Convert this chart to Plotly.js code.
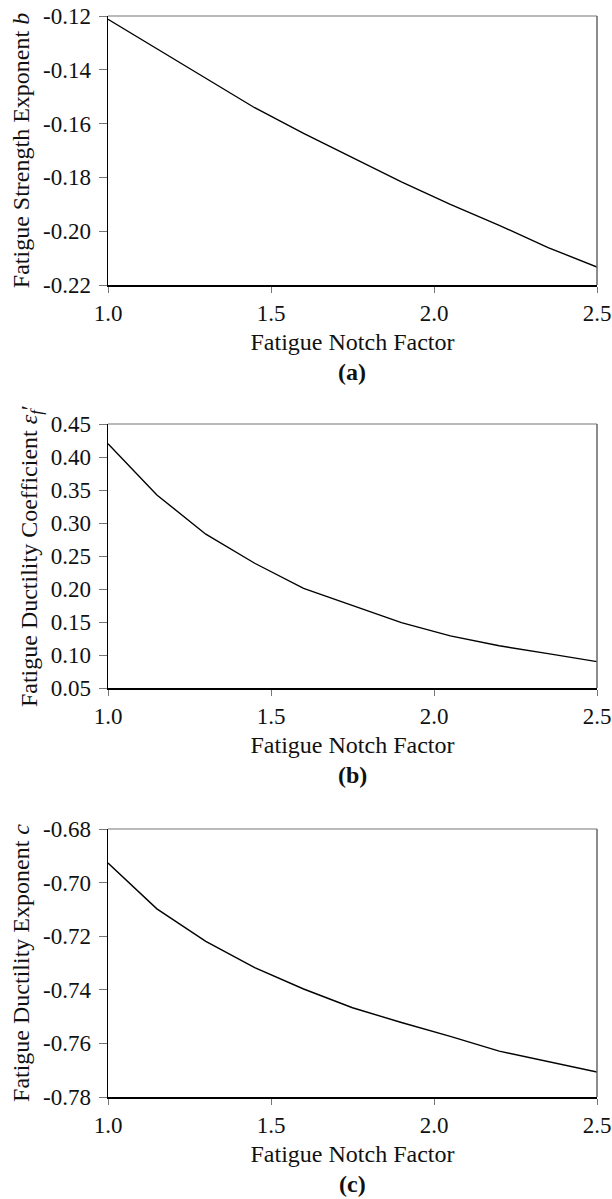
<!DOCTYPE html>
<html>
<head>
<meta charset="utf-8">
<script src="https://cdn.plot.ly/plotly-3.0.1.min.js"></script>
<style>
  html, body { margin: 0; padding: 0; background: #fff; }
  #chart { width: 612px; height: 1199px; }
</style>
</head>
<body>
<div id="chart"></div>
<script>
// ---- data ----
const notchFactor = [1.0, 1.15, 1.3, 1.45, 1.6, 1.75, 1.9, 2.05, 2.2, 2.35, 2.5];
const strengthExponentB = [-0.1212, -0.1322, -0.1433, -0.1541, -0.1636, -0.1728, -0.1817, -0.1900, -0.1978, -0.2061, -0.2133];
const ductilityCoefficientEf = [0.420, 0.3425, 0.283, 0.239, 0.201, 0.175, 0.149, 0.129, 0.114, 0.102, 0.090];
const ductilityExponentC = [-0.6927, -0.7098, -0.7219, -0.7317, -0.7397, -0.7467, -0.7522, -0.7574, -0.7629, -0.7668, -0.7707];

const xTickVals = [1.0, 1.5, 2.0, 2.5];
const xTickText = ['1.0', '1.5', '2.0', '2.5'];
const bTickVals = [-0.22, -0.20, -0.18, -0.16, -0.14, -0.12];
const bTickText = ['-0.22', '-0.20', '-0.18', '-0.16', '-0.14', '-0.12'];
const efTickVals = [0.05, 0.10, 0.15, 0.20, 0.25, 0.30, 0.35, 0.40, 0.45];
const efTickText = ['0.05', '0.10', '0.15', '0.20', '0.25', '0.30', '0.35', '0.40', '0.45'];
const cTickVals = [-0.78, -0.76, -0.74, -0.72, -0.70, -0.68];
const cTickText = ['-0.78', '-0.76', '-0.74', '-0.72', '-0.70', '-0.68'];

const xTitle = 'Fatigue Notch Factor';
const yTitles = ['Fatigue Strength Exponent <i>b</i>',
                 'Fatigue Ductility Coefficient <i>ε<sub>f</sub></i>′',
                 'Fatigue Ductility Exponent <i>c</i>'];
const panelLabels = ['(a)', '(b)', '(c)'];

// ---- layout ----
const W = 612, H = 1199;
const FONT = 'Liberation Serif';
const xDom = [108 / W, 597 / W];
const panels = [
  {top: 16, bottom: 285},
  {top: 424, bottom: 688},
  {top: 829, bottom: 1097}
];
const yDom = panels.map(p => [1 - p.bottom / H, 1 - p.top / H]);

const series = [strengthExponentB, ductilityCoefficientEf, ductilityExponentC];
const yRanges = [[-0.22, -0.12], [0.05, 0.45], [-0.78, -0.68]];
const yTicks = [[bTickVals, bTickText], [efTickVals, efTickText], [cTickVals, cTickText]];

const traces = series.map((ys, i) => ({
  type: 'scatter', mode: 'lines',
  x: notchFactor, y: ys,
  xaxis: i === 0 ? 'x' : 'x' + (i + 1),
  yaxis: i === 0 ? 'y' : 'y' + (i + 1),
  line: {color: '#000', width: 1.4},
  hoverinfo: 'skip', showlegend: false
}));

const layout = {
  width: W, height: H,
  margin: {l: 0, r: 0, t: 0, b: 0},
  paper_bgcolor: '#fff', plot_bgcolor: '#fff',
  font: {family: FONT, size: 23, color: '#111'},
  showlegend: false,
  shapes: [], annotations: []
};

for (let i = 0; i < 3; i++) {
  const xk = i === 0 ? 'xaxis' : 'xaxis' + (i + 1);
  const yk = i === 0 ? 'yaxis' : 'yaxis' + (i + 1);
  const xs = i === 0 ? 'x' : 'x' + (i + 1);
  const ysid = i === 0 ? 'y' : 'y' + (i + 1);
  layout[xk] = {
    domain: xDom, anchor: ysid, range: [1.0, 2.5],
    tickvals: xTickVals, ticktext: xTickText,
    ticks: 'outside', ticklen: 6, tickwidth: 1, tickcolor: '#777',
    showline: true, linecolor: '#000', linewidth: 2,
    showgrid: false, zeroline: false, automargin: false,
    tickfont: {family: FONT, size: 23, color: '#111'},
    title: {text: xTitle, font: {family: FONT, size: 24, color: '#111'}, standoff: 9}
  };
  layout[yk] = {
    domain: yDom[i], anchor: xs, range: yRanges[i],
    tickvals: yTicks[i][0], ticktext: yTicks[i][1],
    ticks: 'outside', ticklen: 8, tickwidth: 1, tickcolor: '#777',
    ticklabelstandoff: 3,
    showline: true, linecolor: '#000', linewidth: 1.5,
    showgrid: false, zeroline: false, automargin: false,
    tickfont: {family: FONT, size: 23, color: '#111'},
    title: {text: yTitles[i], font: {family: FONT, size: 24, color: '#111'}, standoff: 6}
  };
  layout.shapes.push({type: 'line', xref: xs + ' domain', yref: ysid + ' domain',
    x0: 0, x1: 1, y0: 1, y1: 1, line: {color: '#777', width: 1.2}});
  layout.shapes.push({type: 'line', xref: xs + ' domain', yref: ysid + ' domain',
    x0: 1, x1: 1, y0: 0, y1: 1, line: {color: '#666', width: 1.5}});
  layout.annotations.push({
    text: '<b>' + panelLabels[i] + '</b>', showarrow: false,
    xref: 'paper', yref: 'paper',
    x: (xDom[0] + xDom[1]) / 2, y: 1 - (panels[i].bottom + 87) / H,
    xanchor: 'center', yanchor: 'middle',
    font: {family: FONT, size: 24, color: '#111'}
  });
}

Plotly.newPlot('chart', traces, layout, {displayModeBar: false, staticPlot: true});
</script>
</body>
</html>
